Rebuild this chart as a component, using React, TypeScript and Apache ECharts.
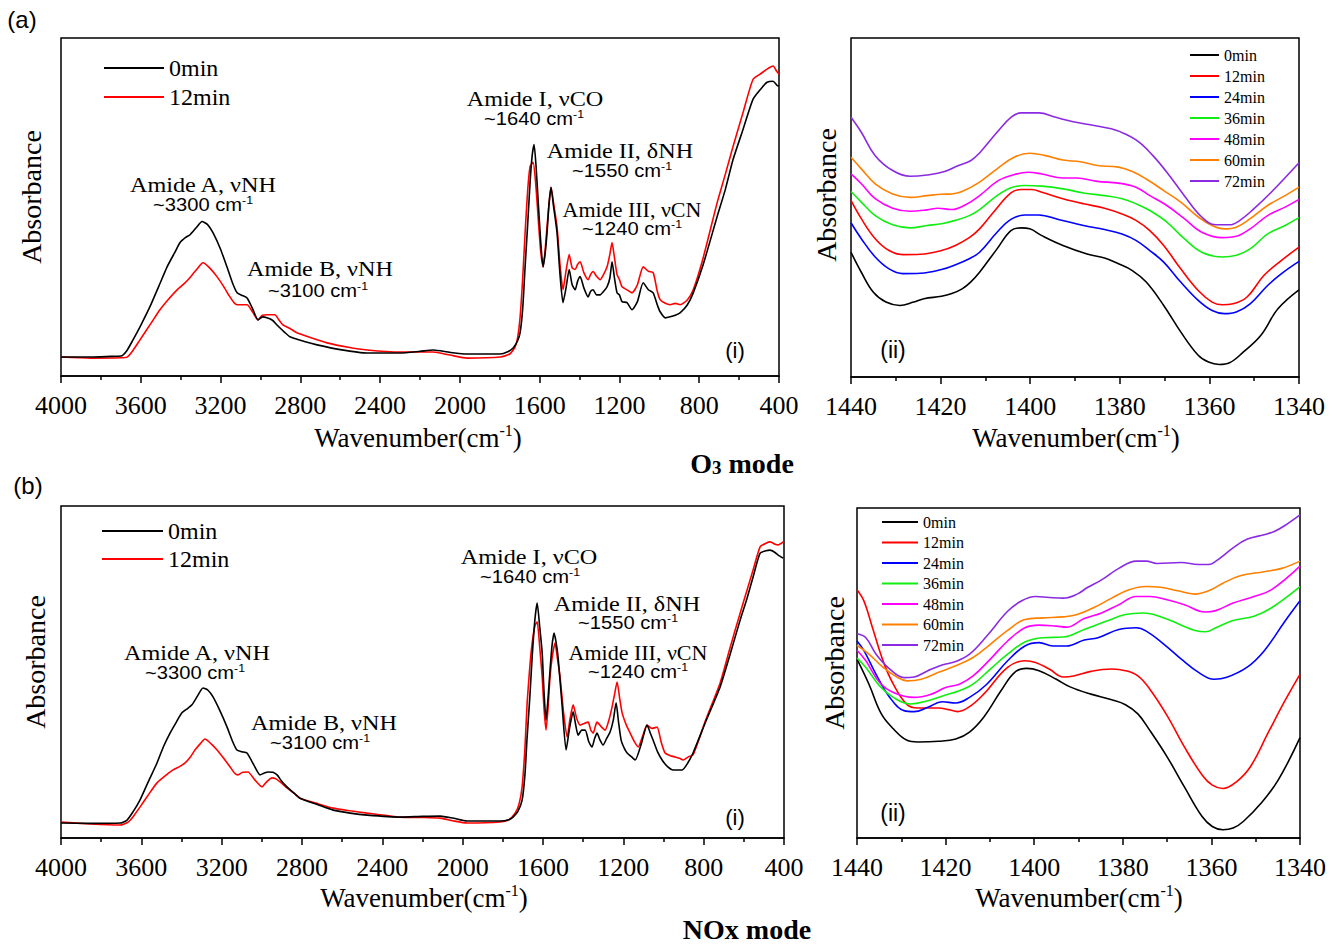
import React, { useEffect, useRef } from "react";
import * as echarts from "echarts";

const SERIF = '"Liberation Serif", "Times New Roman", serif';
const SANS = '"Liberation Sans", Arial, sans-serif';

const namesAll = ["0min", "12min", "24min", "36min", "48min", "60min", "72min"];
const namesTwo = ["0min", "12min"];
const colorsAll = ["#000000", "#ff0000", "#0000ff", "#11ee11", "#ff00ff", "#ff8000", "#8a2be2"];

// (a)(i) O3 mode, full spectrum [wavenumber, absorbance a.u.]
const o3Full0: [number, number][] = [[4000,5.6],[3850,5.6],[3750,5.8],[3700,5.9],[3670,7.5],[3639,10.7],[3600,15],[3554,20.5],[3510,26.5],[3468,32.3],[3430,36.5],[3403,39.5],[3375,41],[3353,41.8],[3320,44],[3293,45.7],[3265,44.8],[3238,42.4],[3200,37.5],[3168,32.3],[3140,27.5],[3117,24.6],[3090,23.8],[3067,23.1],[3040,20],[3012,16.6],[2990,17.5],[2967,17.2],[2940,16.5],[2917,15.1],[2880,13],[2852,11.6],[2780,10.2],[2716,9.2],[2600,7.8],[2465,6.8],[2300,6.8],[2200,7.3],[2134,7.7],[2050,7.0],[1964,6.5],[1798,6.5],[1760,7.2],[1733,8.3],[1710,10.5],[1698,12.8],[1685,20],[1673,32.3],[1660,45],[1648,57.3],[1638,65],[1628,68.5],[1618,62],[1608,52.2],[1595,40],[1583,32.3],[1573,36],[1563,42.4],[1553,51],[1543,55.8],[1530,50],[1513,42.4],[1498,30],[1483,21.7],[1468,26],[1452,31.5],[1437,27],[1422,25.5],[1410,28],[1397,29.4],[1378,26],[1357,23.4],[1345,25],[1332,25.5],[1315,24],[1297,24.0],[1280,25],[1262,26.4],[1248,29],[1237,33.8],[1225,29],[1212,24.6],[1200,24],[1187,22.0],[1162,21.7],[1137,19.6],[1110,22],[1081,27.6],[1055,25.5],[1031,24.6],[1010,21],[996,19.0],[970,17.2],[946,17.5],[920,18],[896,18.7],[860,21],[830,24.6],[780,33],[710,47.2],[670,55],[630,64.1],[580,73],[530,81.9],[490,85],[460,86.9],[430,87.2],[410,86],[400,85.8]];
const o3Full12: [number, number][] = [[4000,5.6],[3850,5.3],[3700,5.4],[3669,5.6],[3640,7.5],[3604,10.7],[3550,15.5],[3504,19.6],[3460,22.8],[3418,25.5],[3385,27.2],[3363,28.5],[3320,31.5],[3288,33.5],[3255,32],[3218,29.4],[3185,26.5],[3153,23.4],[3130,21.5],[3117,21.1],[3067,21.1],[3040,19],[3012,16.6],[2990,18],[2967,18.1],[2927,18.1],[2910,16.8],[2887,15.1],[2850,14],[2817,12.8],[2740,11.2],[2666,9.8],[2560,8.5],[2465,7.7],[2300,7.1],[2134,7.1],[2050,6.2],[1964,5.3],[1798,5.6],[1750,6.5],[1723,8.6],[1710,11.5],[1698,17.5],[1685,29],[1673,42.4],[1660,55],[1648,62.0],[1633,63.2],[1620,57],[1608,47.2],[1595,37],[1583,32.3],[1573,37],[1563,44.2],[1553,51],[1543,55.8],[1530,51],[1513,44.2],[1498,33],[1483,25.5],[1468,31],[1452,35.9],[1437,32],[1422,31.5],[1410,33],[1397,33.8],[1378,30.5],[1357,28.5],[1345,30],[1332,30.9],[1315,29.5],[1297,28.5],[1280,30],[1262,32.3],[1248,36],[1237,39.5],[1225,35],[1212,30.0],[1200,28.5],[1187,26.4],[1162,25.5],[1137,24.6],[1110,27],[1081,32.3],[1055,31],[1031,30.6],[1010,25],[996,22.6],[970,21.5],[946,21.1],[920,21.5],[896,21.1],[860,22.5],[830,25.5],[780,35],[710,51.3],[670,59.5],[630,68.0],[580,78],[530,87.8],[490,89.5],[460,90.8],[430,91.7],[410,90],[400,89.3]];

// (a)(ii) O3 mode, 1440-1340 region
const o3Zoom: [number, number][][] = [
  [[1440,36.8],[1437.7,30.9],[1435,25.0],[1432.2,22.1],[1429.1,21.1],[1426,22.1],[1423.7,23.1],[1419.8,23.8],[1417.5,24.6],[1415.2,26.0],[1413.3,28.0],[1411.3,30.9],[1407.4,37.8],[1404.3,43.2],[1402,44.0],[1400.1,43.7],[1397.4,41.7],[1392.7,38.8],[1387.3,36.3],[1383.4,35.1],[1380.3,33.4],[1377.2,31.4],[1374.1,28.0],[1370.2,21.1],[1366.4,13.3],[1362.5,6.4],[1360.2,4.4],[1357.8,3.7],[1355.5,4.2],[1352.4,7.4],[1348.5,12.3],[1344.7,20.1],[1340,25.7]],
  [[1440,52.1],[1437.7,46.7],[1434.6,40.8],[1431.5,37.3],[1428.4,36.1],[1424.5,36.2],[1419.8,37.3],[1416.7,38.8],[1413.6,41.1],[1411.3,43.7],[1408.2,48.6],[1404.3,54.3],[1402,55.3],[1399.7,55.3],[1397.4,54.5],[1392.7,52.6],[1388.1,51.1],[1383.4,49.8],[1379.5,48.1],[1376.4,46.2],[1373.3,43.2],[1370.2,38.8],[1366.4,31.9],[1362.5,25.5],[1359.4,22.1],[1357.1,21.3],[1354.7,21.6],[1351.6,23.6],[1347.8,30.0],[1343.9,34.4],[1340,38.3]],
  [[1440,45.5],[1437.7,40.8],[1434.6,35.4],[1431.5,31.9],[1428.4,30.5],[1424.5,30.6],[1419.8,31.7],[1416.7,33.1],[1413.6,34.9],[1411.3,36.8],[1407.4,42.7],[1404.3,46.5],[1401.2,47.8],[1398.1,47.8],[1393.5,46.4],[1388.1,44.7],[1383.4,43.5],[1379.5,42.2],[1376.4,40.3],[1373.3,37.3],[1370.2,33.9],[1366.4,28.0],[1362.5,22.6],[1359.4,19.6],[1356.7,18.7],[1354,19.2],[1350.9,21.6],[1347,27.0],[1343.9,30.5],[1340,34.1]],
  [[1440,54.7],[1437.7,51.6],[1434.6,47.6],[1430.7,44.9],[1426.8,44.0],[1423,44.7],[1419.8,45.2],[1416.7,46.2],[1413.6,47.6],[1411.3,49.4],[1407.4,53.5],[1404.3,55.8],[1401.2,56.5],[1397.4,56.3],[1392.7,55.5],[1388.1,54.3],[1383.4,53.5],[1379.5,52.6],[1376.4,51.1],[1373.3,49.1],[1369.5,45.7],[1365.6,40.8],[1361.7,36.8],[1357.1,35.4],[1354,35.9],[1350.9,37.8],[1347,42.2],[1343.1,44.7],[1340,47.0]],
  [[1440,59.9],[1437.7,57.0],[1434.6,52.6],[1430.7,49.8],[1426.8,48.9],[1423,49.3],[1420.6,49.8],[1417.5,49.4],[1414.4,50.8],[1411.3,53.5],[1407.4,57.7],[1404.3,59.4],[1400.5,60.4],[1397.4,59.9],[1392.7,58.7],[1389.6,58.7],[1385,57.7],[1380.3,57.2],[1376.4,56.0],[1373.3,53.5],[1369.5,50.6],[1365.6,46.7],[1361.7,42.7],[1357.1,41.1],[1354,41.5],[1350.9,43.7],[1347,47.6],[1343.1,50.1],[1340,52.4]],
  [[1440,64.8],[1437.7,61.4],[1434.6,57.0],[1430.7,54.0],[1426.8,53.0],[1423,53.5],[1419.8,53.9],[1417.5,54.0],[1415.2,54.7],[1411.3,57.5],[1407.4,61.4],[1403.6,64.8],[1400.1,66.0],[1396.6,65.3],[1392.7,64.0],[1388.8,63.5],[1385,62.4],[1380.3,61.9],[1377.2,60.6],[1374.1,58.4],[1370.2,55.0],[1366.4,51.6],[1362.5,47.2],[1359.4,44.7],[1356.7,43.7],[1354,44.2],[1350.9,46.7],[1347,50.6],[1343.1,53.5],[1340,56.0]],
  [[1440,76.6],[1437.7,72.2],[1434.6,65.3],[1430.7,60.9],[1426.8,59.2],[1423,59.6],[1419.1,60.6],[1416,62.4],[1413.3,63.8],[1411.3,66.1],[1407.4,72.2],[1404.3,76.6],[1402,77.9],[1398.1,77.9],[1394.3,76.6],[1390.4,75.3],[1385.7,74.2],[1381.9,73.2],[1378.8,71.7],[1375.7,69.3],[1372.6,65.3],[1369.5,60.4],[1365.6,53.5],[1361.7,47.2],[1358.6,44.9],[1355.5,44.9],[1353.2,46.2],[1350.1,49.6],[1346.2,54.5],[1340,63.2]],
];

// (b)(i) NOx mode, full spectrum
const noxFull0: [number, number][] = [[4000,4.5],[3850,4.4],[3706,4.5],[3671,5.4],[3640,8],[3607,11.4],[3565,17],[3522,22.6],[3490,27.5],[3457,31.6],[3425,35],[3398,37.7],[3370,39],[3348,40.1],[3320,42.8],[3293,45.2],[3268,44.5],[3243,42.5],[3210,38.5],[3173,33.4],[3145,29],[3124,26.5],[3100,26],[3074,25.6],[3040,22],[3009,19.0],[2990,19.5],[2969,19.9],[2945,19.8],[2924,19.0],[2900,17],[2875,15.4],[2840,13.5],[2810,12.0],[2720,10],[2645,8.4],[2560,7.5],[2476,6.9],[2312,6.3],[2200,6.5],[2112,6.6],[2050,6],[1978,5.1],[1814,5.1],[1770,5.5],[1749,6.3],[1725,8],[1704,11.4],[1690,19],[1679,30.4],[1665,43],[1654,54.5],[1640,66],[1629,70.8],[1617,64],[1604,55.7],[1595,44],[1585,35.5],[1575,42],[1565,50.6],[1555,58],[1545,61.7],[1535,59],[1525,54.5],[1505,40],[1485,26.5],[1468,33],[1450,38.0],[1437,34],[1425,31.0],[1407,32.5],[1390,32.5],[1372,29],[1356,27.4],[1343,30],[1331,31.6],[1316,29.5],[1301,28.0],[1283,30],[1266,31.9],[1250,35.5],[1236,40.7],[1224,35],[1211,29.5],[1195,27],[1181,25.6],[1160,24.5],[1141,23.5],[1110,28.5],[1082,34.0],[1065,31.5],[1052,29.5],[1030,26],[1007,23.5],[980,21.5],[952,20.5],[907,20.5],[880,22.5],[853,25.6],[790,35],[718,45.5],[670,55],[618,65.7],[585,72],[554,78.6],[519,85.8],[490,86.5],[469,86.7],[445,86],[429,85.2],[404,84.3]];
const noxFull12: [number, number][] = [[4000,4.8],[3850,4.2],[3706,3.9],[3666,4.8],[3640,6.5],[3607,9.3],[3565,13],[3522,16.6],[3480,18.8],[3442,20.5],[3410,21.5],[3382,22.6],[3355,24.5],[3333,26.5],[3305,28.5],[3283,29.8],[3255,28.5],[3223,26.5],[3190,24],[3158,21.4],[3135,19.5],[3119,19.0],[3095,19.8],[3069,19.9],[3035,17.5],[2999,15.4],[2975,17],[2949,18.1],[2930,17.8],[2909,16.9],[2875,15.1],[2840,13.5],[2810,12.0],[2720,10.3],[2645,9.0],[2560,8.2],[2476,7.5],[2312,6.3],[2200,6.2],[2112,6.0],[2050,5.2],[1978,4.5],[1814,4.8],[1770,5.5],[1739,7.5],[1720,10],[1704,15.4],[1690,27],[1679,40.7],[1665,52],[1654,58.7],[1640,64],[1629,65.1],[1617,58],[1604,48.5],[1595,39],[1585,32.5],[1575,39],[1565,48.5],[1553,55],[1540,58.7],[1528,54],[1515,48.5],[1498,38],[1480,30.4],[1465,36],[1450,40.1],[1432,36],[1415,34.0],[1395,34.5],[1375,34.9],[1362,32.5],[1350,31.6],[1340,33.5],[1331,34.9],[1310,33.5],[1291,32.5],[1272,35.5],[1256,39.5],[1243,43.5],[1231,47.0],[1218,42],[1206,37.7],[1185,34],[1166,31.6],[1145,29],[1126,27.4],[1105,30.5],[1082,34.0],[1058,33],[1032,33.4],[1012,29],[992,25.6],[965,24.8],[942,24.4],[920,24],[902,23.5],[875,24.5],[853,25.0],[790,35.5],[718,46.7],[670,57],[618,67.8],[585,74.5],[554,80.7],[519,87.7],[490,88.8],[469,89.2],[445,88.5],[429,88.3],[404,89.2]];

// (b)(ii) NOx mode, 1440-1340 region
const noxZoom: [number, number][][] = [
  [[1440,54.2],[1437.3,46.6],[1434.5,37.6],[1431.8,33.1],[1428.7,29.6],[1426.3,29.1],[1421.6,29.3],[1417.7,30.0],[1414.6,32.1],[1411.4,36.6],[1407.5,44.6],[1404.4,50.2],[1401.7,51.4],[1398.9,50.7],[1395,48.1],[1391.9,45.8],[1387.2,43.6],[1382.5,41.9],[1379.4,40.4],[1376.6,37.6],[1373.9,32.6],[1370,24.6],[1366.1,15.5],[1362.1,6.5],[1359.8,3.5],[1357.4,2.5],[1355.1,3.0],[1352.8,5.0],[1348.8,10.5],[1344.9,17.6],[1340,30.4]],
  [[1440,75.2],[1438.4,71.7],[1436.5,63.7],[1434.1,53.6],[1431.8,46.6],[1428.7,40.4],[1426.3,39.4],[1421.6,39.4],[1419.3,38.9],[1417.3,38.3],[1414.6,39.8],[1411.4,43.6],[1406,51.7],[1402.1,53.7],[1399.7,53.2],[1396.6,51.2],[1393.4,48.8],[1391.1,49.1],[1387.2,50.5],[1382.5,51.2],[1379.4,50.7],[1376.6,49.1],[1373.9,45.1],[1370,37.1],[1366.1,27.6],[1362.1,19.1],[1359.8,16.0],[1357.4,15.0],[1354.3,17.1],[1351.2,21.6],[1347.3,31.6],[1343.4,41.6],[1340,49.6]],
  [[1440,59.7],[1438.4,56.7],[1435.7,49.6],[1432.6,42.6],[1429.4,38.6],[1427.1,38.3],[1424,39.6],[1420.8,41.3],[1417.7,40.9],[1414.6,42.6],[1410.7,46.6],[1406,53.7],[1402.1,58.2],[1398.9,59.2],[1395.8,58.2],[1392.7,58.2],[1388.7,60.0],[1385.6,60.7],[1380.9,63.2],[1377,63.7],[1374.7,62.7],[1370.7,58.7],[1366.8,54.2],[1362.9,50.2],[1359.4,48.1],[1356.7,48.6],[1352,51.7],[1348.1,56.7],[1343.4,65.7],[1340,71.9]],
  [[1440,54.5],[1438,51.7],[1434.9,46.1],[1431.8,42.6],[1427.9,40.6],[1424,41.6],[1420,43.3],[1416.9,44.6],[1413.8,46.6],[1409.9,51.2],[1406,55.7],[1402.1,59.4],[1398.1,60.7],[1393.4,60.9],[1388.7,63.2],[1384.1,65.5],[1379.4,67.7],[1375.4,68.2],[1370.7,66.7],[1366.8,64.5],[1363.7,62.9],[1361.3,62.5],[1359,63.7],[1355.1,65.9],[1350.4,67.2],[1346.5,69.7],[1340,76.2]],
  [[1440,56.9],[1438,53.7],[1434.9,47.1],[1431.8,44.1],[1427.1,42.6],[1423.2,43.6],[1420,45.6],[1416.9,46.6],[1413.8,49.1],[1409.9,54.2],[1406,59.7],[1402.1,63.7],[1398.9,64.5],[1395,64.2],[1392.7,63.9],[1388.7,66.5],[1384.8,68.2],[1380.9,70.7],[1377,73.2],[1373.9,73.2],[1370,72.2],[1366.1,70.7],[1361.4,68.5],[1359,68.9],[1355.1,71.2],[1350.4,73.2],[1346.5,75.2],[1340,82.4]],
  [[1440,58.4],[1437.3,55.7],[1434.1,51.7],[1431,48.8],[1428.7,47.6],[1425.5,48.1],[1421.6,50.2],[1417.7,52.2],[1413.8,54.7],[1409.9,58.7],[1406,62.9],[1402.1,66.2],[1398.1,66.7],[1393.4,67.0],[1390.3,67.7],[1386.4,69.9],[1382.5,72.7],[1378.6,75.2],[1374.7,76.2],[1371.5,76.0],[1367.6,74.9],[1363.7,73.9],[1360.6,74.9],[1357.4,77.2],[1353.5,79.5],[1348.1,80.7],[1344.1,81.7],[1340,83.9]],
  [[1440,61.9],[1438,60.7],[1435.7,55.7],[1432.6,51.2],[1429.4,48.6],[1427.1,48.8],[1424,50.7],[1420.8,52.4],[1417.7,53.5],[1414.6,55.7],[1410.7,61.2],[1406,68.7],[1402.8,71.9],[1399.7,73.2],[1396.6,72.9],[1393.4,72.7],[1390.3,73.9],[1388,75.9],[1384.8,78.2],[1380.9,81.7],[1377,83.9],[1374.7,83.9],[1372.3,83.2],[1366.8,83.5],[1362.9,82.9],[1360.6,82.9],[1359,83.9],[1355.1,87.9],[1352,90.5],[1348.1,91.9],[1345.8,92.9],[1343.4,94.7],[1340,97.9]],
];

function axisX(gridIndex: number, min: number, max: number, interval: number) {
  return {
    gridIndex, type: "value", min, max, interval, inverse: true,
    axisLine: { show: true, lineStyle: { color: "#000", width: 1.5 } },
    axisTick: { show: true, inside: false, length: 7, lineStyle: { color: "#000", width: 1.5 } },
    minorTick: { show: true, splitNumber: 2, length: 4, lineStyle: { color: "#000", width: 1.5 } },
    axisLabel: {
      color: "#000", fontFamily: SERIF, fontSize: 26, margin: 16,
      showMinLabel: true, showMaxLabel: true, formatter: (v: number) => String(v),
    },
    splitLine: { show: false }, minorSplitLine: { show: false },
  };
}
function axisY(gridIndex: number) {
  return {
    gridIndex, type: "value", min: 0, max: 100,
    axisLine: { show: false }, axisTick: { show: false }, axisLabel: { show: false },
    splitLine: { show: false },
  };
}
function line(name: string, data: [number, number][], color: string, idx: number, smooth: number) {
  return {
    type: "line", name, data, xAxisIndex: idx, yAxisIndex: idx,
    symbol: "none", showSymbol: false, smooth,
    lineStyle: { color, width: 1.6 }, itemStyle: { color }, emphasis: { disabled: true },
  };
}
function t(x: number, y: number, text: string, fontSize: number, fontFamily: string, extra: any = {}, el: any = {}) {
  return {
    type: "text", x, y, silent: true, z: 100, ...el,
    style: { text, fontSize, fontFamily, fill: "#000", align: "center", verticalAlign: "middle", ...extra },
  };
}
const supRich = (size: number, fam: string) => ({ sup: { fontSize: size, fontFamily: fam, verticalAlign: "top", lineHeight: size, fill: "#000" } });
function amide(x: number, y: number, text: string, size = 22) {
  return t(x, y, text, size, SERIF, { lineHeight: 16 }, { scaleX: 1.1 });
}
function cm(x: number, y: number, num: string) {
  return t(x, y, `~${num} cm{sup|-1}`, 18, SANS, { lineHeight: 21, rich: supRich(11, SANS) }, { scaleX: 1.12 });
}
function wavenumberTitle(x: number, y: number) {
  return t(x, y, "Wavenumber(cm{sup|-1})", 27, SERIF, { lineHeight: 32, rich: supRich(16, SERIF) });
}
function absorbance(x: number, y: number) {
  return t(x, y, "Absorbance", 28, SERIF, {}, { rotation: Math.PI / 2 });
}

export default function App() {
  const ref = useRef<HTMLDivElement>(null);
  useEffect(() => {
    document.body.style.margin = "0";
    const chart = echarts.init(ref.current!, undefined, { renderer: "svg" });
    const legendCommon = { orient: "vertical", icon: "rect", itemHeight: 2, padding: 0, selectedMode: false };
    const option: any = {
      animation: false,
      backgroundColor: "#fff",
      grid: [
        { left: 61, top: 38, width: 718, height: 338, show: true, borderColor: "#000", borderWidth: 1.5 },
        { left: 851, top: 38, width: 448, height: 339, show: true, borderColor: "#000", borderWidth: 1.5 },
        { left: 61, top: 506, width: 723, height: 332, show: true, borderColor: "#000", borderWidth: 1.5 },
        { left: 857, top: 508, width: 443, height: 330, show: true, borderColor: "#000", borderWidth: 1.5 },
      ],
      xAxis: [axisX(0, 400, 4000, 400), axisX(1, 1340, 1440, 20), axisX(2, 400, 4000, 400), axisX(3, 1340, 1440, 20)],
      yAxis: [axisY(0), axisY(1), axisY(2), axisY(3)],
      legend: [
        { ...legendCommon, data: namesTwo, left: 104, top: 56, itemWidth: 60, itemGap: 5, textStyle: { fontFamily: SERIF, fontSize: 24, color: "#000", lineHeight: 22 } },
        { ...legendCommon, data: namesAll, left: 1190, top: 47, itemWidth: 29, itemGap: 5, textStyle: { fontFamily: SERIF, fontSize: 16, color: "#000", lineHeight: 16 } },
        { ...legendCommon, data: namesTwo, left: 102, top: 519, itemWidth: 61, itemGap: 4, textStyle: { fontFamily: SERIF, fontSize: 24, color: "#000", lineHeight: 22 } },
        { ...legendCommon, data: namesAll, left: 882, top: 514, itemWidth: 36, itemGap: 4.5, textStyle: { fontFamily: SERIF, fontSize: 16, color: "#000", lineHeight: 16 } },
      ],
      series: [
        line("12min", o3Full12, colorsAll[1], 0, 0.2),
        line("0min", o3Full0, colorsAll[0], 0, 0.2),
        ...o3Zoom.map((d, i) => line(namesAll[i], d, colorsAll[i], 1, 0.4)),
        line("12min", noxFull12, colorsAll[1], 2, 0.2),
        line("0min", noxFull0, colorsAll[0], 2, 0.2),
        ...noxZoom.map((d, i) => line(namesAll[i], d, colorsAll[i], 3, 0.4)),
      ],
      graphic: [
        t(22, 19, "(a)", 24, SANS),
        t(28, 485, "(b)", 24, SANS),
        absorbance(31, 197), absorbance(826, 195), absorbance(35, 662), absorbance(834, 663),
        wavenumberTitle(418, 438), wavenumberTitle(1076, 438), wavenumberTitle(424, 898), wavenumberTitle(1079, 898),
        t(742, 463, "O{s|3} mode", 28, SERIF, { fontWeight: "bold", lineHeight: 28, rich: { s: { fontSize: 19, fontWeight: "bold", fontFamily: SERIF, verticalAlign: "bottom", lineHeight: 24, fill: "#000" } } }),
        t(747, 929, "NOx mode", 28, SERIF, { fontWeight: "bold", lineHeight: 28 }),
        // (a)(i) annotations
        amide(203, 184, "Amide A, \u03bdNH"), cm(203, 205, "3300"),
        amide(320, 268, "Amide B, \u03bdNH"), cm(318, 291, "3100"),
        amide(535, 98, "Amide I, \u03bdCO"), cm(534, 119, "1640"),
        amide(620, 150, "Amide II, \u03b4NH"), cm(622, 171, "1550"),
        amide(632, 210, "Amide III, \u03bdCN", 20), cm(632, 229, "1240"),
        t(735, 350, "(i)", 22, SANS),
        t(893, 350, "(ii)", 23, SANS),
        // (b)(i) annotations
        amide(197, 652, "Amide A, \u03bdNH"), cm(195, 673, "3300"),
        amide(324, 722, "Amide B, \u03bdNH"), cm(320, 743, "3100"),
        amide(529, 556, "Amide I, \u03bdCO"), cm(530, 577, "1640"),
        amide(627, 603, "Amide II, \u03b4NH"), cm(628, 623, "1550"),
        amide(638, 653, "Amide III, \u03bdCN", 20), cm(638, 672, "1240"),
        t(735, 817, "(i)", 22, SANS),
        t(893, 813, "(ii)", 23, SANS),
      ],
    };
    chart.setOption(option);
    return () => chart.dispose();
  }, []);
  return <div ref={ref} style={{ width: 1343, height: 946 }} />;
}
